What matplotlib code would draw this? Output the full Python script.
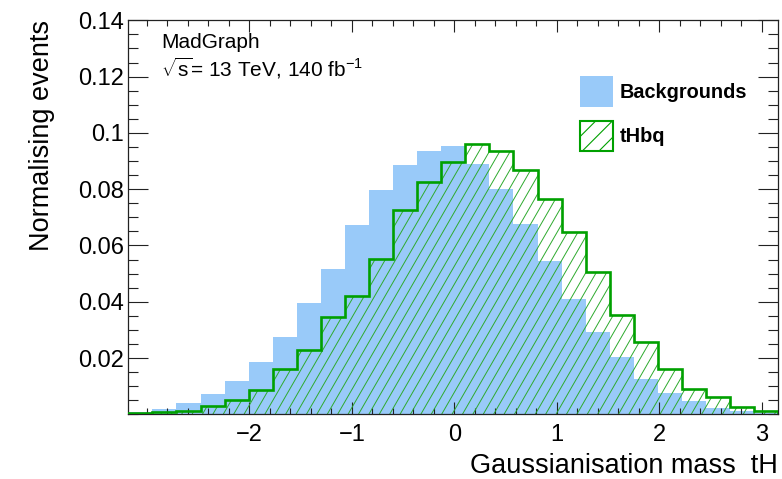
import numpy as np
import matplotlib
matplotlib.use("Agg")
import matplotlib.pyplot as plt
from matplotlib.collections import LineCollection
from matplotlib.patches import Polygon, Patch
from matplotlib.ticker import MultipleLocator, FixedLocator, FuncFormatter

plt.rcParams['font.family'] = ['Liberation Sans', 'DejaVu Sans']
plt.rcParams['mathtext.fontset'] = 'custom'
plt.rcParams['mathtext.rm'] = 'Liberation Sans'
plt.rcParams['mathtext.it'] = 'Liberation Sans:italic'
plt.rcParams['hatch.linewidth'] = 0.8

# histogram binning (normalised distributions)
X_MIN, X_MAX, N_BINS = -3.18, 3.16, 27

backgrounds = [0.0009, 0.0019, 0.0041, 0.0071, 0.0120, 0.0186, 0.0276, 0.0395, 0.0516,
               0.0674, 0.0798, 0.0886, 0.0937, 0.0952, 0.0890, 0.0802, 0.0677, 0.0543,
               0.0409, 0.0292, 0.0205, 0.0125, 0.0075, 0.0047, 0.0024, 0.0013, 0.0006]
thbq = [0.0003, 0.0009, 0.0013, 0.0031, 0.0050, 0.0085, 0.0161, 0.0228, 0.0346,
        0.0421, 0.0552, 0.0727, 0.0826, 0.0896, 0.0961, 0.0937, 0.0869, 0.0764,
        0.0648, 0.0504, 0.0353, 0.0258, 0.0161, 0.0089, 0.0060, 0.0027, 0.0012]

labels = ["Backgrounds", "tHbq"]
x_ticks = [-2, -1, 0, 1, 2, 3]
y_ticks = [0.02, 0.04, 0.06, 0.08, 0.10, 0.12, 0.14]

BLUE = "#99caf9"
GREEN = "#00a000"
HATCH = "#2eaa2e"

W, H = 782, 479
fig = plt.figure(figsize=(W / 100, H / 100), dpi=100)
ax = fig.add_axes([128.3 / W, 1 - 414.3 / H, 650 / W, 394 / H])

edges = np.linspace(X_MIN, X_MAX, N_BINS + 1)
ax.stairs(backgrounds, edges, fill=True, color=BLUE, zorder=1, linewidth=0)

# ROOT-like 3004 hatching, drawn as clipped lines at 60 deg
verts = [(edges[0], 0)]
for i, v in enumerate(thbq):
    verts += [(edges[i], v), (edges[i + 1], v)]
verts.append((edges[-1], 0))
clip = Polygon(verts, closed=True, facecolor="none", edgecolor="none")
ax.add_patch(clip)

ax_w, ax_h = 650.0, 394.0
step = 10.4
run = ax_h / np.tan(np.radians(60))
segs = []
c = -run
while c < ax_w + step:
    segs.append([(c / ax_w, 0), ((c + run) / ax_w, 1)])
    c += step
lc = LineCollection(segs, colors=HATCH, linewidths=0.7, transform=ax.transAxes, zorder=2)
lc.set_clip_path(clip)
ax.add_collection(lc)

ax.stairs(thbq, edges, color=GREEN, linewidth=1.9, zorder=3)

ax.set_xlim(X_MIN, X_MAX)
ax.set_ylim(0, 0.14)

ax.xaxis.set_major_locator(FixedLocator(x_ticks))
ax.xaxis.set_minor_locator(MultipleLocator(0.2))
ax.yaxis.set_major_locator(FixedLocator(y_ticks))
ax.yaxis.set_minor_locator(MultipleLocator(0.005))
ax.yaxis.set_major_formatter(FuncFormatter(lambda v, p: f"{v:g}"))

ax.tick_params(axis="both", which="both", direction="in", top=True, right=True,
               width=0.8, color="#222222")
ax.tick_params(axis="x", which="major", length=8.6, labelsize=17, pad=7)
ax.tick_params(axis="x", which="minor", length=4.3)
ax.tick_params(axis="y", which="major", length=14.4, labelsize=17, pad=3)
ax.tick_params(axis="y", which="minor", length=7.2)
for s in ax.spines.values():
    s.set_linewidth(0.9)
    s.set_color("#222222")

ax.set_xlabel("Gaussianisation mass  tH", fontsize=19.5, ha="right", va="center")
ax.xaxis.set_label_coords(1.0, (414.3 - 466) / ax_h)
ax.set_ylabel("Normalising events", fontsize=19.5, loc="top", va="center")
ax.yaxis.set_label_coords((42 - 128.3) / ax_w, 1.0)

fig.text(161 / W, 1 - 42 / H, "MadGraph", fontsize=15, va="center")
fig.text(161 / W, 1 - 68 / H, r"$\sqrt{\mathrm{s}}$= 13 TeV, 140 fb$^{-1}$", fontsize=15, va="center")

handles = [Patch(facecolor=BLUE, edgecolor="none"),
           Patch(facecolor="white", edgecolor=GREEN, hatch="//", linewidth=1.5)]
leg = ax.legend(handles, labels, loc="upper left", bbox_to_anchor=(570 / W, 1 - 66 / H),
                bbox_transform=fig.transFigure, frameon=False, borderpad=0,
                handlelength=1.65, handleheight=2.0, handletextpad=0.35,
                labelspacing=0.7, prop={"weight": "bold", "size": 14.3})

fig.savefig("out.png", dpi=100)
